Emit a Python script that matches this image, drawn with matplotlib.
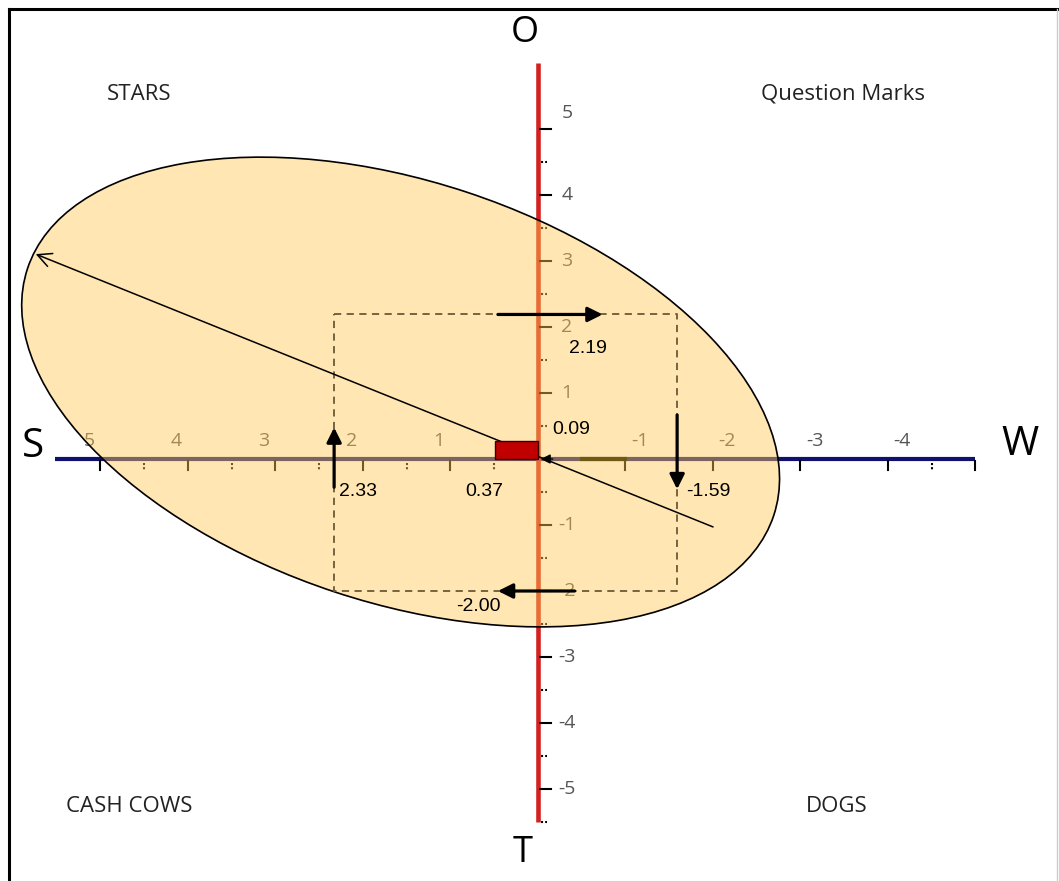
import matplotlib
matplotlib.use("Agg")
import matplotlib.pyplot as plt
from matplotlib.patches import Ellipse, Rectangle
from matplotlib.transforms import Affine2D
from matplotlib.lines import Line2D

# SWOT scores
strength = 2.33
weakness = -1.59
opportunity = 2.19
threat = -2.00
mid_x = 0.37   # (S + W) / 2
mid_y = 0.09   # (O + T) / 2

x_ticks = [5, 4, 3, 2, 1, -1, -2, -3, -4, -5]
x_labels = ["5", "4", "3", "2", "1", "-1", "-2", "-3", "-4", ""]
x_half = [4.5, 3.5, 2.5, 1.5, 0.5, -4.5]
y_ticks = [5, 4, 3, 2, 1, -1, -2, -3, -4, -5]
y_half = [4.5, 3.5, 2.5, 1.5, 0.5, -0.5, -1.5, -2.5, -3.5, -4.5, -5.5]

quadrants = ["STARS", "Question Marks", "CASH COWS", "DOGS"]
quad_pos = [(4.56, 5.53), (-3.49, 5.53), (4.67, -5.26), (-3.41, -5.26)]

PX_X, PX_Y = 87.5, 66.0   # pixels per unit on each axis
W_PX, H_PX = 1059, 881
OX, OY = 538, 459         # origin in pixels

fig = plt.figure(figsize=(W_PX / 100, H_PX / 100), dpi=100)
ax = fig.add_axes([0, 0, 1, 1])
ax.set_xlim(OX / PX_X, (OX - W_PX) / PX_X)   # strengths on the left
ax.set_ylim((OY - H_PX) / PX_Y, OY / PX_Y)
ax.axis("off")

sans = "Open Sans"
arial = "Liberation Sans"
grey = "#555555"

# axes lines
ax.plot([5.52, -5.0], [0, 0], color="#10106e", lw=3, solid_capstyle="butt", zorder=1)
ax.plot([0, 0], [6.0, -5.5], color="#d42020", lw=3.3, solid_capstyle="butt", zorder=1)

# ticks
for t, lbl in zip(x_ticks, x_labels):
    ax.plot([t, t], [-0.03, -0.17], color="black", lw=1.5, zorder=1)
    dx = 0.13 if t > 0 else -0.16
    ax.text(t + dx, 0.27, lbl, ha="center", va="center", fontsize=14,
            color=grey, family=sans, zorder=1)
for t in x_half:
    ax.plot([t, t], [-0.06, -0.17], color="black", lw=1.5, ls=(0, (1, 1)), zorder=1)
for t in y_ticks:
    ax.plot([-0.02, -0.15], [t, t], color="black", lw=1.5, zorder=1)
    ty = 5.25 if t == 5 else t
    ax.text(-0.33, ty, str(t), ha="center", va="center", fontsize=14,
            color=grey, family=sans, zorder=1)
for t in y_half:
    ax.plot([-0.03, -0.1], [t, t], color="black", lw=1.5, ls=(0, (1, 1)), zorder=1)

# ellipse, defined in screen-pixel space around its data centre
ell = Ellipse((0, 0), width=786, height=421, angle=-18.3,
              facecolor=(1.0, 0.79, 0.33, 0.45), edgecolor="black", lw=1.2, zorder=2)
ell.set_transform(Affine2D().scale(-1 / PX_X, 1 / PX_Y).translate(1.57, 1.015) + ax.transData)
ax.add_patch(ell)

ax.plot([-0.48, -1.02], [0, 0], color="#6e5a14", lw=3, solid_capstyle="butt", zorder=2.5)

# dashed box of the four scores
ax.plot([strength, weakness, weakness, strength, strength],
        [opportunity, opportunity, threat, threat, opportunity],
        color="#6b5a35", lw=1.3, ls=(0, (4, 3)), zorder=3)

# diagonal direction line
ax.annotate("", xy=(5.77, 3.12), xytext=(-2.03, -1.045),
            arrowprops=dict(arrowstyle="->", color="black", lw=1.1, mutation_scale=25),
            zorder=4)

# score arrows
arr = dict(arrowstyle="-|>", color="black", lw=2.3, mutation_scale=22)
ax.annotate("", xy=(strength, 0.52), xytext=(strength, -0.47), arrowprops=arr, zorder=5)
ax.annotate("", xy=(weakness, -0.5), xytext=(weakness, 0.71), arrowprops=arr, zorder=5)
ax.annotate("", xy=(-0.77, opportunity), xytext=(0.49, opportunity), arrowprops=arr, zorder=5)
ax.annotate("", xy=(0.49, threat), xytext=(-0.45, threat), arrowprops=arr, zorder=5)
ax.annotate("", xy=(0, 0), xytext=(-0.2, 0),
            arrowprops=dict(arrowstyle="-|>", color="black", lw=1, mutation_scale=14), zorder=5)

# mid point rectangle
ax.add_patch(Rectangle((0, 0), 0.49, 0.27, facecolor="#c00000", edgecolor="#3a0000",
                       lw=1, zorder=4))

# value labels
lab = dict(ha="center", va="center", fontsize=14, color="black", family=arial, zorder=6)
ax.text(strength - 0.27, -0.5, f"{strength:.2f}", **lab)
ax.text(weakness - 0.36, -0.5, f"{weakness:.2f}", **lab)
ax.text(-0.57, opportunity - 0.51, f"{opportunity:.2f}", **lab)
ax.text(0.686, threat - 0.23, f"{threat:.2f}", **lab)
ax.text(0.617, -0.5, f"{mid_x:.2f}", **lab)
ax.text(-0.38, 0.44, f"{mid_y:.2f}", **lab)

# quadrant names
for name, (qx, qy) in zip(quadrants, quad_pos):
    ax.text(qx, qy, name, ha="center", va="center", fontsize=16, color="#222222", family=sans)

# S W O T letters
big = dict(ha="center", va="center", color="black", family=sans)
ax.text(5.77, 0.18, "S", fontsize=29, **big)
ax.text(-5.51, 0.21, "W", fontsize=29, **big)
ax.text(0.15, 6.45, "O", fontsize=26, **big)
ax.text(0.18, -5.97, "T", fontsize=26, **big)

# frame
fig.add_artist(Line2D([9 / W_PX, 9 / W_PX], [0, 1 - 9 / H_PX], color="black", lw=2.2))
fig.add_artist(Line2D([9 / W_PX, 1], [1 - 9 / H_PX, 1 - 9 / H_PX], color="black", lw=2.2))
fig.add_artist(Line2D([1 - 2 / W_PX, 1 - 2 / W_PX], [0, 1 - 9 / H_PX], color="#cccccc", lw=1))

fig.savefig("out.png", dpi=100)
